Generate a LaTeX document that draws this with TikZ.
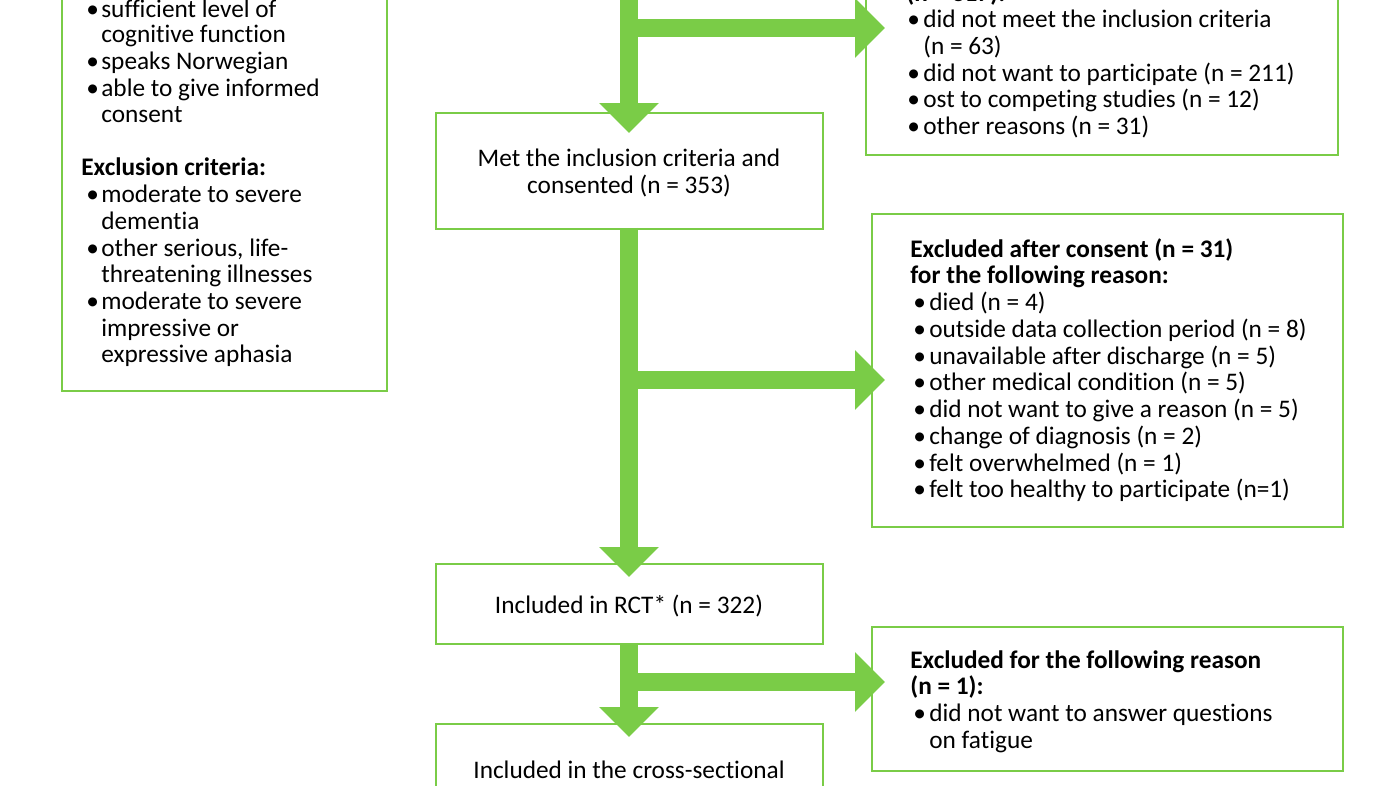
\documentclass[tikz,border=0pt]{standalone}
\usepackage{fontspec}
\setmainfont{Carlito}[RawFeature=-liga]
\usetikzlibrary{arrows.meta}
\definecolor{gr}{HTML}{7ACC47}
\begin{document}
\begin{tikzpicture}[x=0.02cm,y=-0.02cm,
  box/.style={draw=gr,line width=2.2*0.567pt},
  txt/.style={anchor=base west,inner sep=0,font=\fontsize{14.4}{17}\selectfont},
  ctxt/.style={anchor=base,inner sep=0,font=\fontsize{14.4}{17}\selectfont},
  bft/.style={txt,font=\fontsize{14.4}{17}\selectfont\bfseries},
  flow/.style={draw=gr,line width=18*0.567pt,-{Triangle[width=58*0.567pt,length=30*0.567pt]}}]
\useasboundingbox (0,0) rectangle (1400,786);
\begin{scope}
\clip (0,0) rectangle (1400,786);
% boxes
\draw[box] (62,-40) rectangle (387,391);
\draw[box] (866,-60) rectangle (1338,155);
\node[box,minimum width=387*0.02cm,minimum height=116*0.02cm,anchor=north west] (met) at (435,112) {};
\draw[box] (872,214) rectangle (1343,527);
\node[box,minimum width=387*0.02cm,minimum height=80*0.02cm,anchor=north west] (rct) at (435,563) {};
\draw[box] (872,627) rectangle (1343,771);
\node[box,minimum width=387*0.02cm,minimum height=120*0.02cm,anchor=north west] (cs) at (435,723) {};
% arrows
\coordinate (t0) at (629,-20);
\coordinate (b1) at (629,28);
\coordinate (e1) at (885,28);
\coordinate (m1) at (629,133);
\draw[flow] (t0) -- (m1);
\draw[flow] (b1) -- (e1);
\coordinate (s2) at (629,228);
\coordinate (b2) at (629,380);
\coordinate (e2) at (885,380);
\coordinate (m2) at (629,577);
\draw[flow] (s2) -- (m2);
\draw[flow] (b2) -- (e2);
\coordinate (s3) at (629,643);
\coordinate (b3) at (629,682);
\coordinate (e3) at (885,682);
\coordinate (m3) at (629,737);
\draw[flow] (s3) -- (m3);
\draw[flow] (b3) -- (e3);
% left box text
\foreach \y/\t [count=\i] in {8/{\textbullet},60/{\textbullet},87/{\textbullet},193/{\textbullet},247/{\textbullet},300/{\textbullet}}
  \node[txt] (lb\i) at (86,\y+10) {\t};
\foreach \y/\t [count=\i] in {8/{sufficient level of},33/{cognitive function},60/{speaks Norwegian},87/{able to give informed},113/{consent},193/{moderate to severe},220/{dementia},247/{other serious, life-},273/{threatening illnesses},300/{moderate to severe},327/{impressive or},353/{expressive aphasia}}
  \node[txt] (lt\i) at (101,\y+10) {\t};
\node[bft] (lh) at (81,176) {Exclusion criteria:};
% top right text
\node[bft] (trh) at (906,2) {(n = 317):};
\foreach \y in {18,72,98,125}
  \node[txt] at (907,\y+10) {\textbullet};
\foreach \y/\t [count=\i] in {18/{did not meet the inclusion criteria},45/{(n = 63)},72/{did not want to participate (n = 211)},98/{ost to competing studies (n = 12)},125/{other reasons (n = 31)}}
  \node[txt] (tr\i) at (923,\y+10) {\t};
% center texts
\node[ctxt] (mt1) at (629,167) {Met the inclusion criteria and};
\node[ctxt] (mt2) at (629,194) {consented (n = 353)};
\node[ctxt] (rt) at (629,614) {Included in RCT* (n = 322)};
\node[ctxt] (ct) at (629,779) {Included in the cross-sectional};
% excluded after consent
\node[bft] (eh1) at (910,258) {Excluded after consent (n = 31)};
\node[bft] (eh2) at (910,284) {for the following reason:};
\foreach \y/\t [count=\i] in {301/{died (n = 4)},328/{outside data collection period (n = 8)},355/{unavailable after discharge (n = 5)},381/{other medical condition (n = 5)},408/{did not want to give a reason (n = 5)},435/{change of diagnosis (n = 2)},462/{felt overwhelmed (n = 1)},488/{felt too healthy to participate (n=1)}}
 {\node[txt] (eb\i) at (913,\y+10) {\textbullet};
  \node[txt] (et\i) at (929,\y+10) {\t};}
% last excluded
\node[bft] (fh1) at (910,669) {Excluded for the following reason};
\node[bft] (fh2) at (910,695) {(n = 1):};
\node[txt] (fb) at (913,722) {\textbullet};
\node[txt] (ft1) at (929,722) {did not want to answer questions};
\node[txt] (ft2) at (929,749) {on fatigue};
\end{scope}
\end{tikzpicture}
\end{document}
